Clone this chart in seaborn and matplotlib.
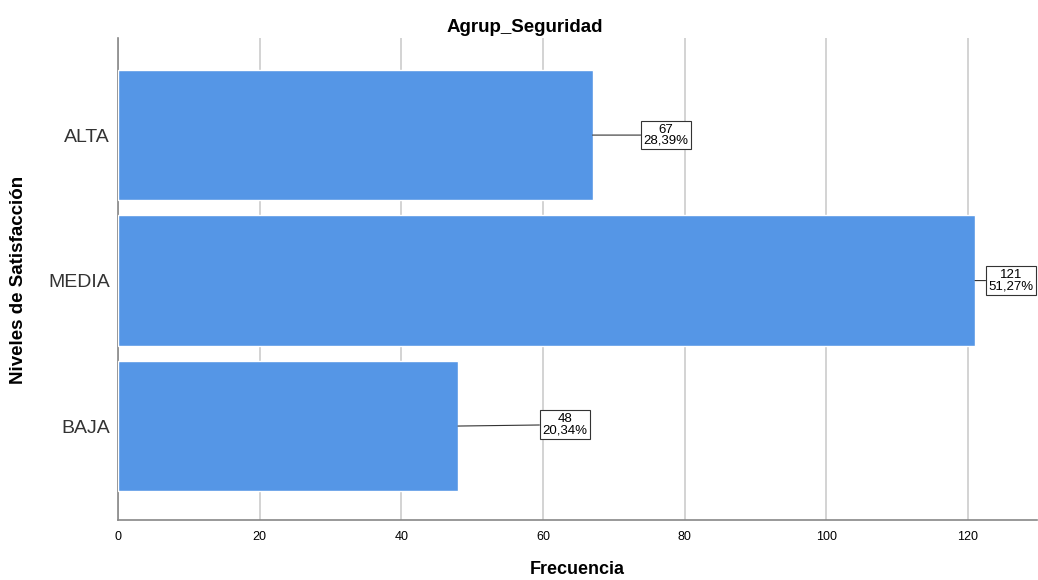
import matplotlib
matplotlib.use("Agg")
import matplotlib.pyplot as plt
import seaborn as sns
import pandas as pd

# Data
niveles = ["ALTA", "MEDIA", "BAJA"]
frecuencia = [67, 121, 48]
porcentaje = ["28,39%", "51,27%", "20,34%"]

sns.set_style("white")
plt.rcParams["font.family"] = ["Liberation Sans", "DejaVu Sans"]
plt.rcParams["text.color"] = "black"

df = pd.DataFrame({"nivel": niveles, "frecuencia": frecuencia})

fig = plt.figure(figsize=(10.38, 5.8), dpi=100)
ax = fig.add_axes([0.1137, 0.1034, 0.885, 0.831])

sns.barplot(data=df, x="frecuencia", y="nivel", orient="h", color="#5596e6",
            saturation=1, width=0.895, ax=ax, zorder=3)

ax.set_xlim(0, 129.7)
ax.set_ylim(2.646, -0.667)
ax.set_xticks(range(0, 121, 20))
ax.grid(axis="x", color="#cccccc", linewidth=1.2, zorder=0)
ax.set_axisbelow(True)

for s in ["top", "right"]:
    ax.spines[s].set_visible(False)
for s in ["left", "bottom"]:
    ax.spines[s].set_color("#888888")
    ax.spines[s].set_linewidth(1.2)

ax.tick_params(axis="x", labelsize=9, length=0, pad=8, labelcolor="black")
ax.tick_params(axis="y", labelsize=14, length=0, pad=6, labelcolor="#333333")

ax.set_xlabel("Frecuencia", fontsize=13, fontweight="bold", labelpad=13, color="black")
ax.set_ylabel("")
fig.text(0.018, 0.517, "Niveles de Satisfacción", rotation=90, fontsize=13.5,
         fontweight="bold", ha="center", va="center")
fig.text(0.506, 0.952, "Agrup_Seguridad", fontsize=13.5, fontweight="bold",
         ha="center", va="center")

# label boxes with leader lines (offsets in points)
offsets = [(53, 0), (26, 0), (77, 1)]
for i, (v, p) in enumerate(zip(frecuencia, porcentaje)):
    ax.annotate(f"{v}\n{p}", xy=(v, i), xytext=offsets[i], textcoords="offset points",
                ha="center", va="center", fontsize=9.5, linespacing=0.9,
                bbox=dict(boxstyle="square,pad=0.2", fc="white", ec="#333333", lw=0.8),
                arrowprops=dict(arrowstyle="-", color="#333333", lw=0.8,
                                shrinkA=0, shrinkB=0),
                zorder=5)

fig.savefig("out.png", dpi=100)
